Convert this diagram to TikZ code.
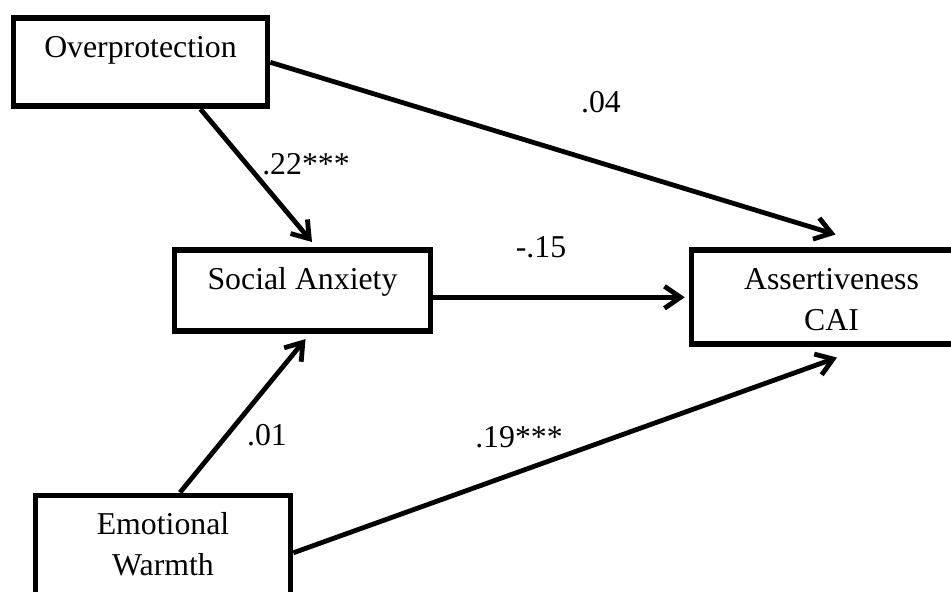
\documentclass[tikz,border=0pt]{standalone}
\usepackage{fontspec}
\setmainfont{Liberation Serif}
\usetikzlibrary{arrows.meta}
\tikzset{
  varbox/.style = {rectangle, draw=black, line width=2.8pt, fill=white, align=center,
                   font=\fontsize{15.9pt}{20.5pt}\selectfont, anchor=north,
                   inner xsep=0pt, inner ysep=0pt, text height=19.75pt},
  coef/.style   = {font=\fontsize{15.9pt}{20.5pt}\selectfont, anchor=base, inner sep=0pt},
  effect/.style = {-{Straight Barb[length=8pt, width=11pt]}, line width=2.4pt, draw=black},
}
\begin{document}
\begin{tikzpicture}[x=0.5pt, y=-0.5pt]
        \useasboundingbox (0,0) rectangle (951,592);
        \node[varbox, minimum width=127pt, text depth=24.25pt] (op) at (140.5,15.5) {Overprotection};
        \node[varbox, minimum width=128pt, text depth=20.75pt] (sa) at (302.5,247.5) {Social Anxiety};
        \node[varbox, minimum width=140pt, text height=40.25pt, text depth=6.75pt] (ac) at (831.5,247.5) {Assertiveness\\CAI};
        \node[varbox, minimum width=127.5pt, text height=40.25pt, text depth=17.25pt] (ew) at (163,492.5) {Emotional\\Warmth};
        % paths
        \draw[effect] (op.east) -- ([xshift=2pt, yshift=6.5pt]ac.north);
        \draw[effect] ([xshift=30pt]op.south) -- ([xshift=4.75pt, yshift=2.75pt]sa.north);
        \draw[effect, shorten >=2pt] (sa.east |- ac.west) -- (ac.west);
        \draw[effect] ([xshift=8.5pt]ew.north) -- ([xshift=1.5pt, yshift=-2.5pt]sa.south);
        \draw[effect] (ew.east) -- ([xshift=2.75pt, yshift=-5.25pt]ac.south);
        % coefficients
        \node[coef] (c1) at (601,113) {.04};
        \node[coef] (c2) at (306,175) {.22***};
        \node[coef] (c3) at (541,258) {-.15};
        \node[coef] (c4) at (267,445) {.01};
        \node[coef] (c5) at (519,447) {.19***};
    \end{tikzpicture}
\end{document}
